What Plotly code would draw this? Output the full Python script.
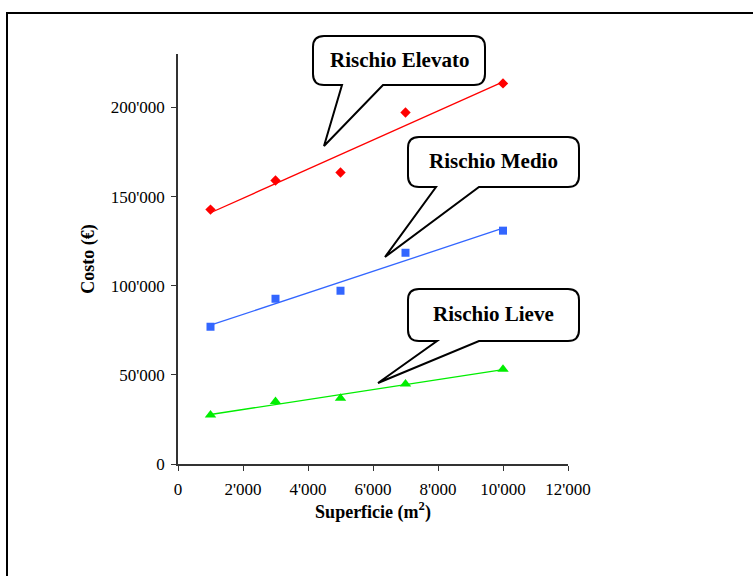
import numpy as np
import plotly.graph_objects as go

# ---------------- data ----------------
superficie = [1000, 3000, 5000, 7000, 10000]
costo_elevato = [142700, 159000, 163500, 197200, 213500]
costo_medio = [77000, 92700, 97200, 118500, 130900]
costo_lieve = [27500, 35000, 36900, 44900, 53200]

serie_nomi = ["Rischio Elevato", "Rischio Medio", "Rischio Lieve"]

x_tick_vals = [0, 2000, 4000, 6000, 8000, 10000, 12000]
x_tick_text = ["0", "2'000", "4'000", "6'000", "8'000", "10'000", "12'000"]
y_tick_vals = [0, 50000, 100000, 150000, 200000]
y_tick_text = ["0", "50'000", "100'000", "150'000", "200'000"]

x_title = "Superficie (m<sup>2</sup>)"
y_title = "Costo (€)"

# ---------------- layout geometry (pixels) ----------------
W, H = 753, 576
PL, PR, PT, PB = 178, 568, 54, 464  # plot area edges


def px(x):
    return (x - PL) / (PR - PL)


def py(y):
    return (PB - y) / (PB - PT)


SERIF = "Liberation Serif, Times New Roman, serif"

fig = go.Figure()

styles = [
    dict(color="#FF0000", symbol="diamond", size=8),
    dict(color="#3366FF", symbol="square", size=8),
    dict(color="#00EE00", symbol="triangle-up", size=10),
]
series = [costo_elevato, costo_medio, costo_lieve]

xs = np.array(superficie, dtype=float)
for name, ys, st in zip(serie_nomi, series, styles):
    # linear trend line (least squares) between first and last x
    m, q = np.polyfit(xs, np.array(ys, dtype=float), 1)
    xl = [xs.min(), xs.max()]
    fig.add_trace(go.Scatter(
        x=xl, y=[m * v + q for v in xl], mode="lines",
        line=dict(color=st["color"], width=1.3),
        showlegend=False, hoverinfo="skip"))
    fig.add_trace(go.Scatter(
        x=superficie, y=ys, mode="markers", name=name,
        marker=dict(color=st["color"], symbol=st["symbol"], size=st["size"],
                    line=dict(width=0)),
        showlegend=False))

# ---------------- callouts ----------------
callouts = [
    # text, L, R, T, B, tail-left, tail-right, apex x, apex y
    (serie_nomi[0], 313, 485, 36, 85, 342, 383, 324, 146),
    (serie_nomi[1], 408, 579, 137, 187, 436, 479, 385, 257),
    (serie_nomi[2], 408, 579, 289, 341, 437, 479, 378, 383),
]
shapes = []
annotations = []
r = 11
for text, L, R, T, B, bl, br, ax, ay in callouts:
    pts = [
        ("M", (L + r, T)), ("L", (R - r, T)), ("Q", (R, T), (R, T + r)),
        ("L", (R, B - r)), ("Q", (R, B), (R - r, B)), ("L", (br, B)),
        ("L", (ax, ay)), ("L", (bl, B)), ("L", (L + r, B)),
        ("Q", (L, B), (L, B - r)), ("L", (L, T + r)), ("Q", (L, T), (L + r, T)),
    ]
    path = ""
    for item in pts:
        cmd = item[0]
        coords = " ".join(f"{px(a):.5f},{py(b):.5f}" for a, b in item[1:])
        path += f"{cmd} {coords} "
    path += "Z"
    shapes.append(dict(type="path", xref="paper", yref="paper", path=path,
                       line=dict(color="black", width=2), fillcolor="white",
                       layer="above"))
    annotations.append(dict(
        text=text, xref="paper", yref="paper",
        x=px((L + R) / 2), y=py((T + B) / 2 - 1),
        xanchor="center", yanchor="middle", showarrow=False,
        font=dict(family=SERIF, size=21, color="black", weight="bold")))

# outer frame (left and top edges visible)
shapes.insert(0, dict(type="rect", xref="paper", yref="paper",
                      x0=px(7), x1=px(W + 20), y0=py(H + 20), y1=py(13),
                      line=dict(color="black", width=2), fillcolor="rgba(0,0,0,0)",
                      layer="below"))

axis_common = dict(
    showgrid=False, zeroline=False, showline=True, linecolor="#333333",
    linewidth=1.5, ticks="outside", ticklen=5, tickcolor="#333333",
    tickwidth=1.2, tickmode="array",
    tickfont=dict(family=SERIF, size=17, color="black"),
)

fig.update_layout(
    width=W, height=H,
    margin=dict(l=PL, r=W - PR, t=PT, b=H - PB, pad=0),
    paper_bgcolor="white", plot_bgcolor="white",
    xaxis=dict(range=[0, 12000], tickvals=x_tick_vals, ticktext=x_tick_text,
               ticklabelstandoff=4,
               title=dict(text=x_title, standoff=6,
                          font=dict(family=SERIF, size=18, color="black",
                                    weight="bold")),
               **axis_common),
    yaxis=dict(range=[0, 230000], tickvals=y_tick_vals, ticktext=y_tick_text,
               ticklabelstandoff=3,
               title=dict(text=y_title, standoff=11,
                          font=dict(family=SERIF, size=18, color="black",
                                    weight="bold")),
               **axis_common),
    shapes=shapes,
    annotations=annotations,
    showlegend=False,
)

fig.write_html("out.html",
               config={"displayModeBar": False},
               post_script="document.body.style.margin='0';"
                           "document.body.style.padding='0';")
